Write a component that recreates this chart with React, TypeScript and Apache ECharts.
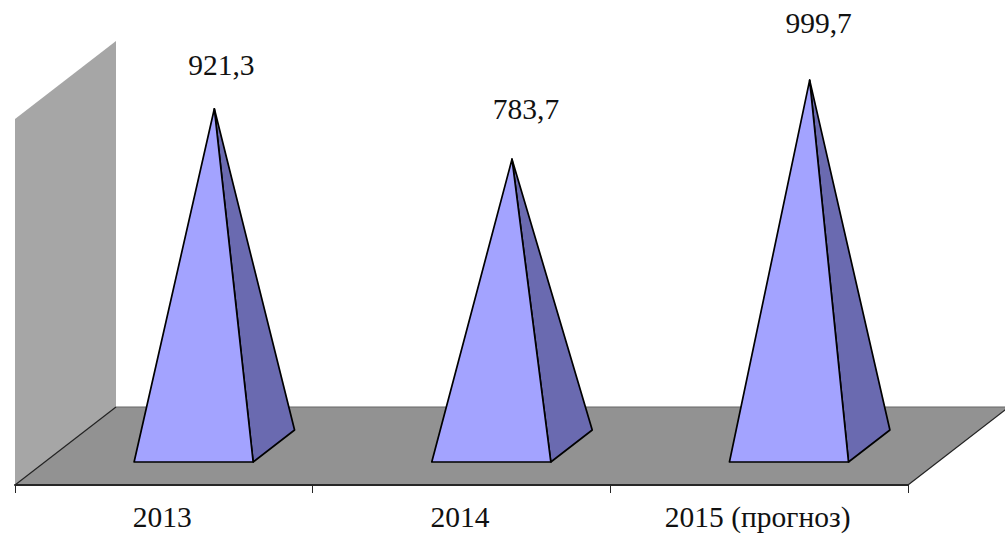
import React, { useEffect, useRef } from "react";
import * as echarts from "echarts";

const categories = ["2013", "2014", "2015 (прогноз)"];
const values = [921.3, 783.7, 999.7];
const valueLabels = ["921,3", "783,7", "999,7"];
const labelShiftX = [7, 14, 9];
const labelShiftY = [-44, -50, -57];

const FONT = '"Liberation Serif", "Times New Roman", serif';
const DEPTH_X = 101;
const DEPTH_Y = 78;
const BASE_RATIO = 0.4;
const BASE_DEPTH = 0.41;

export default function App() {
  const ref = useRef<HTMLDivElement>(null);
  useEffect(() => {
    const chart = echarts.init(ref.current!, null, { renderer: "svg" });
    chart.setOption({
      animation: false,
      backgroundColor: "#ffffff",
      grid: { left: 15, right: 97, top: 119, bottom: 52 },
      xAxis: {
        type: "category",
        data: categories,
        z: 10,
        axisLine: { lineStyle: { color: "#262626", width: 2 } },
        axisTick: { show: true, length: 8, alignWithLabel: false, lineStyle: { color: "#262626", width: 1 } },
        axisLabel: { color: "#111111", fontFamily: FONT, fontSize: 29.5, margin: 17, padding: [0, 3, 0, 0] },
        splitLine: { show: false },
      },
      yAxis: { type: "value", min: 0, max: 1000, show: false },
      series: [
        {
          type: "custom",
          coordinateSystem: "cartesian2d",
          silent: true,
          z: 1,
          data: [[0, 0]],
          encode: { x: 0, y: 1 },
          renderItem: (params: any) => {
            const { x, y, width, height } = params.coordSys;
            const b = y + height;
            const r = x + width;
            return {
              type: "group",
              children: [
                {
                  type: "polygon",
                  shape: { points: [[x, y], [x + DEPTH_X, y - DEPTH_Y], [x + DEPTH_X, b - DEPTH_Y], [x, b]] },
                  style: { fill: "#a6a6a6", stroke: "none" },
                },
                {
                  type: "polygon",
                  shape: { points: [[x, b], [x + DEPTH_X, b - DEPTH_Y], [r + DEPTH_X, b - DEPTH_Y], [r, b]] },
                  style: { fill: "#929292", stroke: "none" },
                },
                { type: "line", shape: { x1: x + DEPTH_X, y1: b - DEPTH_Y, x2: r + DEPTH_X, y2: b - DEPTH_Y }, style: { stroke: "#666666", lineWidth: 1.2 } },
                { type: "line", shape: { x1: x, y1: b, x2: x + DEPTH_X, y2: b - DEPTH_Y }, style: { stroke: "#222222", lineWidth: 1.2 } },
                { type: "line", shape: { x1: r, y1: b, x2: r + DEPTH_X, y2: b - DEPTH_Y }, style: { stroke: "#222222", lineWidth: 1.2 } },
              ],
            };
          },
        },
        {
          type: "custom",
          coordinateSystem: "cartesian2d",
          silent: true,
          z: 2,
          data: values.map((v, i) => [i, v]),
          encode: { x: 0, y: 1 },
          renderItem: (params: any, api: any) => {
            const i = api.value(0);
            const v = api.value(1);
            const top = api.coord([i, v]);
            const zero = api.coord([i, 0]);
            const band = api.size([1, 0])[0];
            const half = (band * BASE_RATIO) / 2;
            const dx = (DEPTH_X * BASE_DEPTH) / 2;
            const dy = (DEPTH_Y * BASE_DEPTH) / 2;
            const cx = zero[0] + DEPTH_X / 2;
            const cy = zero[1] - DEPTH_Y / 2;
            const apex = [top[0] + DEPTH_X / 2, top[1] - DEPTH_Y / 2];
            const fl = [cx - dx - half, cy + dy];
            const fr = [cx - dx + half, cy + dy];
            const br = [cx + dx + half, cy - dy];
            const edge = { stroke: "#000000", lineWidth: 1.7, lineJoin: "round" };
            return {
              type: "group",
              children: [
                { type: "polygon", shape: { points: [apex, fr, br] }, style: { fill: "#6a6ab0", ...edge } },
                { type: "polygon", shape: { points: [apex, fl, fr] }, style: { fill: "#a3a3ff", ...edge } },
                {
                  type: "text",
                  style: {
                    text: valueLabels[i],
                    x: apex[0] + labelShiftX[i],
                    y: apex[1] + labelShiftY[i],
                    font: `29.5px ${FONT}`,
                    fill: "#111111",
                    textAlign: "center",
                    textVerticalAlign: "middle",
                  },
                },
              ],
            };
          },
        },
      ],
    });
    return () => chart.dispose();
  }, []);
  return <div ref={ref} style={{ position: "fixed", left: 0, top: 0, width: 1005, height: 537 }} />;
}
